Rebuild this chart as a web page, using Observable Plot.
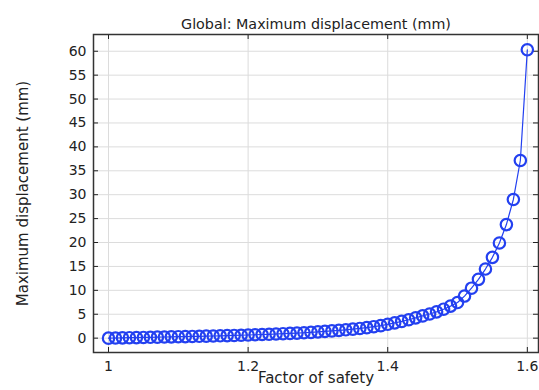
<!DOCTYPE html>
<html>
<head>
<meta charset="utf-8">
<script src="https://cdn.jsdelivr.net/npm/d3@7"></script>
<script src="https://cdn.jsdelivr.net/npm/@observablehq/plot@0.6"></script>
<style>
  html, body { margin: 0; padding: 0; background: #fff; }
  #chart svg { display: block; }
</style>
</head>
<body>
<div id="chart"></div>
<script>
const title = "Global: Maximum displacement (mm)";
const xLabel = "Factor of safety";
const yLabel = "Maximum displacement (mm)";

const factor = [
  1.00, 1.01, 1.02, 1.03, 1.04, 1.05, 1.06, 1.07, 1.08, 1.09,
  1.10, 1.11, 1.12, 1.13, 1.14, 1.15, 1.16, 1.17, 1.18, 1.19,
  1.20, 1.21, 1.22, 1.23, 1.24, 1.25, 1.26, 1.27, 1.28, 1.29,
  1.30, 1.31, 1.32, 1.33, 1.34, 1.35, 1.36, 1.37, 1.38, 1.39,
  1.40, 1.41, 1.42, 1.43, 1.44, 1.45, 1.46, 1.47, 1.48, 1.49,
  1.50, 1.51, 1.52, 1.53, 1.54, 1.55, 1.56, 1.57, 1.58, 1.59,
  1.60
];
const displacement = [
  0.00, 0.03, 0.06, 0.09, 0.12, 0.15, 0.18, 0.21, 0.24, 0.27,
  0.30, 0.33, 0.36, 0.39, 0.42, 0.45, 0.49, 0.53, 0.57, 0.61,
  0.66, 0.71, 0.76, 0.81, 0.87, 0.93, 0.99, 1.06, 1.13, 1.21,
  1.32, 1.42, 1.52, 1.63, 1.75, 1.88, 2.03, 2.20, 2.40, 2.62,
  2.90, 3.20, 3.50, 3.85, 4.25, 4.65, 5.05, 5.50, 6.05, 6.70,
  7.45, 8.80, 10.45, 12.30, 14.45, 16.90, 19.90, 23.75, 29.00, 37.15,
  60.30
];

const xTicks = [1, 1.2, 1.4, 1.6];
const xTickLabels = ["1", "1.2", "1.4", "1.6"];
const yTicks = [0, 5, 10, 15, 20, 25, 30, 35, 40, 45, 50, 55, 60];

const data = factor.map((f, i) => ({f, d: displacement[i]}));

const W = 539, H = 390;
const mt = 34, mb = 38, ml = 93, mr = 1;
const plotH = H - mt - mb;
const plotW = W - ml - mr;
const tickLen = 5;
const blue = "#2340f0";
const font = "DejaVu Sans, sans-serif";

const chart = Plot.plot({
  width: W,
  height: H,
  marginTop: mt,
  marginBottom: mb,
  marginLeft: ml,
  marginRight: mr,
  style: {fontFamily: font, fontSize: "14px", color: "#222", background: "#fff"},
  x: {domain: [0.9785, 1.616]},
  y: {domain: [-3.0, 63.5]},
  marks: [
    Plot.gridX(xTicks, {stroke: "#dcdcdc", strokeOpacity: 1}),
    Plot.gridY(yTicks, {stroke: "#dcdcdc", strokeOpacity: 1}),
    Plot.tickX(xTicks, {x: d => d, insetTop: plotH - tickLen, stroke: "#222"}),
    Plot.tickX(xTicks, {x: d => d, insetBottom: plotH - tickLen, stroke: "#222"}),
    Plot.tickY(yTicks, {y: d => d, insetRight: plotW - tickLen, stroke: "#222"}),
    Plot.tickY(yTicks, {y: d => d, insetLeft: plotW - tickLen, stroke: "#222"}),
    Plot.axisX({ticks: xTicks, tickSize: 0, tickPadding: 9, tickFormat: (d, i) => xTickLabels[i], label: null, fontSize: 14, fill: "#222"}),
    Plot.axisY({ticks: yTicks, tickSize: 0, tickPadding: 7, label: null, fontSize: 14, fill: "#222"}),
    Plot.frame({stroke: "#333", strokeWidth: 1.5}),
    Plot.line(data, {x: "f", y: "d", stroke: blue, strokeWidth: 1.2}),
    Plot.dot(data, {x: "f", y: "d", r: 5.7, stroke: blue, strokeWidth: 2.2, fill: "none"}),
    Plot.text([title], {frameAnchor: "top", dy: -16, fontSize: 14.3, fill: "#222"}),
    Plot.text([xLabel], {frameAnchor: "bottom", dy: 30, fontSize: 15, fill: "#222"}),
    Plot.text([yLabel], {frameAnchor: "left", textAnchor: "middle", rotate: -90, dx: -70, fontSize: 15, fill: "#222"})
  ]
});
document.getElementById("chart").appendChild(chart);
</script>
</body>
</html>
